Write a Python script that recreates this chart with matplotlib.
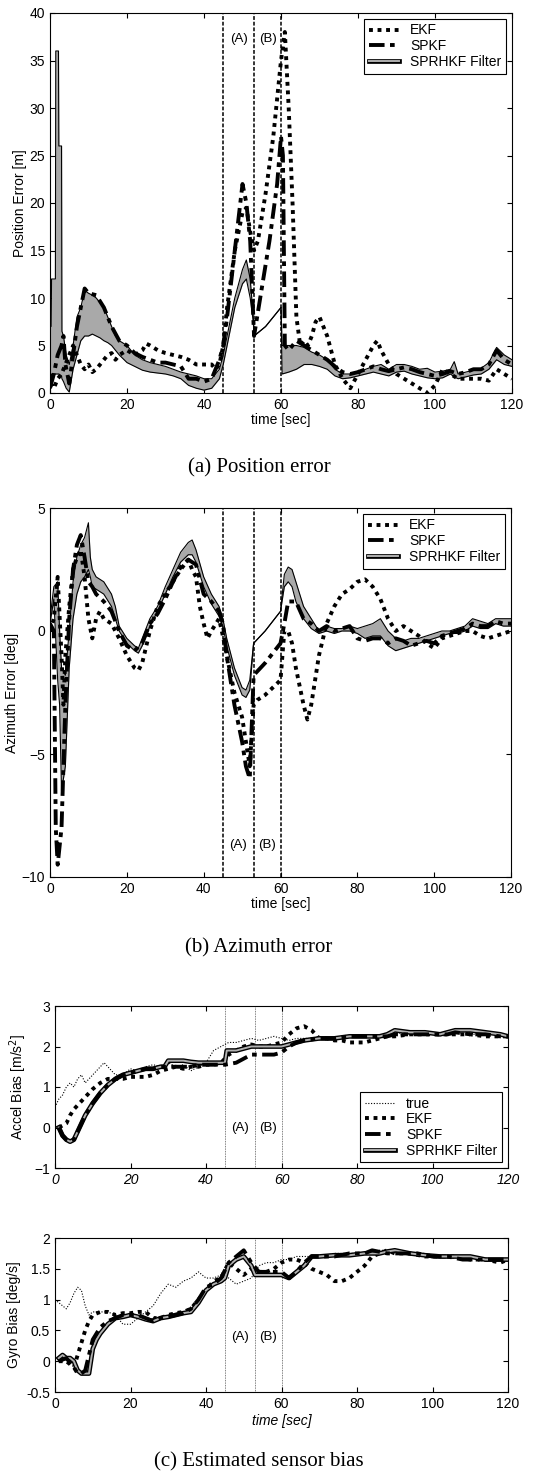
import matplotlib
matplotlib.use("Agg")
import matplotlib.pyplot as plt
import matplotlib.patheffects as pe
from matplotlib.lines import Line2D

plt.rcParams['font.family'] = ['Liberation Sans', 'DejaVu Sans']
plt.rcParams['font.size'] = 10
plt.rcParams['xtick.direction'] = 'in'
plt.rcParams['ytick.direction'] = 'in'
plt.rcParams['xtick.top'] = True
plt.rcParams['ytick.right'] = True
plt.rcParams['xtick.major.size'] = 3.5
plt.rcParams['ytick.major.size'] = 3.5
plt.rcParams['axes.linewidth'] = 0.8

# GPS outage markers
outage_t = [45, 53, 60]

# ---- (a) position error [m] ----
pos_band_t = [0, 0.3, 0.4, 1.4, 1.5, 2.2, 2.3, 3.0, 3.1, 3.5, 4.2, 5, 6, 7, 8, 9, 10, 11, 12, 13, 14,
              15, 16, 17, 18, 20, 22, 24, 26, 28, 30, 32, 34, 36, 38, 40, 42, 44, 45, 46, 48, 50, 51,
              52, 52.8, 53, 56, 60, 60.3, 62, 64, 66, 68, 70, 72, 74, 76, 78, 80, 82, 84, 86, 88, 90,
              92, 94, 96, 98, 100, 102, 104, 105, 106, 108, 110, 112, 114, 116, 118, 120]
pos_band_hi = [7, 7, 12, 12, 36, 36, 26, 26, 6.5, 6, 4, 3, 5, 8, 9, 10.8, 10.5, 10.3, 10, 9.5, 9,
               8, 7, 6, 5.5, 5, 4, 3.5, 3.2, 3, 2.8, 2.5, 2.2, 2, 1.8, 1.5, 1.5, 2.5, 4, 6, 10, 13, 14,
               12, 8, 6, 7, 9, 5, 5, 5, 4.8, 4.3, 4, 3.5, 2.5, 2, 2, 2.2, 2.5, 2.8, 3, 2.5, 3,
               3, 2.8, 2.5, 2.6, 2.2, 2.3, 2.5, 3.3, 2, 2.2, 2.4, 2.6, 3.2, 4.8, 4, 3.5]
pos_band_lo = [1.5, 1.5, 2, 2, 2, 2, 2, 1.8, 1.5, 1.2, 0.5, 0.1, 2.5, 4, 5.5, 6, 6, 6.2, 6, 5.8, 5.5,
               5.3, 5, 4.5, 4, 3.2, 2.8, 2.4, 2.2, 2.1, 2, 1.8, 1.5, 0.8, 0.5, 0.3, 0.5, 1.5, 3, 5, 9,
               11.5, 12, 10, 7.5, 6, 7, 9, 2, 2.2, 2.5, 3, 3, 2.8, 2.5, 1.8, 1.5, 1.6, 1.8, 2, 2.2, 2,
               1.8, 2.2, 2.3, 2, 1.8, 1.6, 1.5, 1.6, 2, 1.7, 1.5, 1.7, 1.9, 2, 2.5, 3.5, 3, 2.8]

pos_ekf_t = [0, 1, 2, 3, 4, 5, 6, 7, 8, 9, 10, 11, 12, 13, 14, 15, 16, 17, 18, 20, 22, 24, 25, 26,
             28, 30, 32, 34, 36, 38, 40, 42, 43, 44, 45, 46, 48, 50, 51, 52, 53, 54, 56, 58, 60,
             61, 62, 63, 64, 65, 66, 67, 68, 69, 70, 71, 72, 73, 74, 76, 78, 80, 82, 84, 85, 86,
             88, 90, 92, 94, 96, 98, 100, 102, 104, 106, 108, 110, 112, 114, 116, 118, 120]
pos_ekf = [1, 0.5, 1.5, 2, 3, 4, 5, 4, 3, 2.5, 3, 2.2, 2.5, 3, 3.5, 4, 4.2, 3.5, 4, 4.5, 4, 4.5, 5.2, 5,
           4.5, 4.2, 4, 3.8, 3.5, 3, 3, 3, 2.5, 3, 5, 9, 15, 19, 19.5, 17, 15, 16, 21, 27, 35,
           38, 30, 20, 8, 5, 5.5, 5, 6, 7.5, 8, 7, 6, 4.5, 3, 1.5, 0.5, 2, 3.5, 5, 5.5, 4.5,
           3, 2, 1.5, 1, 0.5, 0, 0.8, 2.5, 2, 1.5, 1.5, 1.5, 1.5, 1.3, 2.5, 2, 1.5]

pos_spkf_t = [0, 1, 1.5, 2, 3, 3.5, 4, 5, 6, 7, 8, 9, 10, 12, 14, 16, 18, 20, 22, 24, 26, 28, 30, 32,
              34, 36, 38, 40, 42, 44, 45, 46, 48, 50, 51, 52, 53, 55, 57, 59, 60, 60.5, 61, 62, 64,
              66, 68, 70, 72, 74, 76, 78, 80, 82, 84, 86, 88, 90, 92, 94, 96, 98, 100, 102, 104,
              106, 108, 110, 112, 114, 116, 118, 120]
pos_spkf = [0.5, 2, 3, 4, 5, 6, 3, 1, 4, 7, 9, 11, 10.5, 10.3, 9, 7, 5.5, 5, 4.2, 3.8, 3.5, 3.2, 3.2, 3,
            2.8, 1.5, 1.5, 1.2, 1.5, 3.5, 5, 8, 15, 22, 20, 16, 6, 11, 16, 22, 27, 25, 5, 4.5, 5.5,
            5, 4.5, 4, 3.5, 2.8, 2.2, 2, 2.2, 2.5, 2.8, 2.5, 2.3, 2.5, 2.7, 2.5, 2.2, 2, 1.8, 2, 2.3,
            2, 2.2, 2.5, 2.5, 3, 4.5, 3.5, 3]

# ---- (b) azimuth error [deg] ----
az_band_t = [0, 1, 2, 2.5, 3, 4, 5, 6, 7, 8, 9, 10, 10.5, 11, 12, 14, 16, 17, 18, 20, 22, 23, 24, 26,
             28, 30, 32, 34, 36, 37, 38, 40, 42, 44, 45, 46, 48, 50, 51, 52, 53, 56, 60, 61, 62, 63,
             64, 66, 68, 70, 72, 74, 76, 78, 80, 82, 84, 86, 88, 90, 92, 94, 96, 98, 100, 102, 104,
             106, 108, 110, 112, 114, 116, 118, 120]
az_band_hi = [0.5, 1.8, 2, 0, -1.5, -1.8, 0, 2, 3, 3.5, 3.8, 4.4, 3, 2.5, 2.2, 2, 1.5, 1, 0.2, -0.3, -0.6,
              -0.7, -0.3, 0.5, 1, 1.8, 2.5, 3.2, 3.6, 3.7, 3.3, 2.2, 1.5, 1, 0.5, -0.3, -1.5, -2.3, -2.4,
              -2.0, -0.5, 0, 0.8, 2.3, 2.6, 2.5, 2, 1, 0.5, 0, 0.2, 0.1, 0.1, 0.2, 0.1, 0.2, 0.3, 0.5,
              0, -0.3, -0.4, -0.3, -0.3, -0.2, -0.1, 0, 0, 0.1, 0.2, 0.5, 0.4, 0.3, 0.5, 0.5, 0.5]
az_band_lo = [0.3, 1.3, -2, -3, -6.5, -5.5, -1.5, 0.5, 1.5, 2, 2.2, 2.5, 2.2, 1.8, 1.7, 1.5, 1, 0.5, 0,
              -0.5, -0.8, -0.9, -0.6, 0.2, 0.8, 1.5, 2.2, 2.8, 3.1, 3.1, 2.8, 1.8, 1.1, 0.6, 0.2, -0.6,
              -1.8, -2.6, -2.7, -2.4, -0.5, 0, 0.8, 1.8, 2.0, 1.8, 1.2, 0.5, 0.1, -0.1, 0, -0.1, 0, 0,
              -0.1, -0.3, -0.2, -0.2, -0.6, -0.8, -0.7, -0.6, -0.5, -0.4, -0.3, -0.2, -0.1, -0.1, 0,
              0.2, 0.1, 0.1, 0.3, 0.2, 0.2]

az_ekf_t = [0, 1, 2, 3, 3.5, 4, 5, 6, 7, 8, 9, 10, 11, 12, 13, 14, 16, 18, 20, 22, 23, 24, 26, 28, 30,
            32, 34, 36, 37, 38, 39, 40, 41, 42, 44, 45, 46, 48, 50, 51, 52, 53, 54, 56, 58, 60, 61,
            62, 63, 64, 66, 67, 68, 70, 72, 74, 76, 78, 80, 82, 84, 86, 88, 90, 92, 94, 96, 98, 100,
            102, 104, 106, 108, 110, 112, 114, 116, 118, 120]
az_ekf = [0, 0.5, 2.2, -1, -3, -1, 1, 2.5, 3, 3.3, 2.2, 0.5, -0.3, 0.5, 0.8, 0.5, 0.3, -0.3, -1.0, -1.5,
          -1.6, -1.3, 0, 1, 1.5, 2, 2.5, 2.9, 2.5, 2.2, 1, 0.3, -0.3, 0, 0.5, -0.2, -1, -2.5, -3.5,
          -4.5, -5.5, -3, -2.8, -2.6, -2.3, -2, 0, 0, -0.5, -1.5, -3, -3.6, -3, -1, 0.3, 1, 1.5, 1.7,
          2, 2.1, 1.8, 1.3, 0.5, 0, 0.2, 0, -0.2, -0.5, -0.7, -0.3, -0.2, -0.1, 0, 0, -0.2, -0.3,
          -0.2, -0.1, 0]

az_spkf_t = [0, 1, 1.5, 2, 3, 4, 5, 6, 7, 8, 9, 10, 11, 12, 14, 16, 18, 20, 22, 24, 26, 28, 30, 32, 34,
             36, 38, 40, 42, 44, 45, 46, 48, 50, 51, 52, 53, 56, 60, 61, 62, 64, 66, 68, 70, 72, 74,
             76, 78, 80, 82, 84, 86, 88, 90, 92, 94, 96, 98, 100, 102, 104, 106, 108, 110, 112, 114,
             116, 118, 120]
az_spkf = [0.3, 0, -8, -9.5, -8, -3, 0.5, 2.5, 3.5, 3.9, 3, 2, 1.8, 1.5, 1.2, 0.8, 0, -0.6, -0.8, -0.5,
           0.3, 0.7, 1.3, 2, 2.6, 2.9, 2.7, 1.5, 1.2, 0.8, 0.3, -1, -3, -4.5, -5.5, -6, -1.8, -1.3,
           -0.5, 0.3, 1.2, 1.2, 0.5, 0.3, 0, 0.2, 0, 0.1, 0.2, -0.3, -0.4, -0.3, -0.3, -0.5, -0.3,
           -0.4, -0.6, -0.5, -0.4, -0.5, -0.2, -0.1, 0, 0.1, 0.3, 0.2, 0.2, 0.4, 0.3, 0.3]

# ---- (c) accelerometer bias [m/s^2] ----
acc_true_t = [0, 1, 2, 3, 4, 5, 6, 7, 8, 9, 10, 11, 12, 13, 14, 15, 16, 18, 20, 22, 24, 26, 28, 30,
              32, 34, 36, 38, 40, 42, 44, 46, 48, 50, 52, 54, 56, 58, 60, 62, 64, 66, 68, 70, 72,
              76, 80, 84, 88, 90, 94, 98, 102, 106, 110, 114, 118, 120]
acc_true = [0.5, 0.7, 0.8, 1.0, 1.1, 1.0, 1.2, 1.3, 1.1, 1.2, 1.3, 1.4, 1.5, 1.6, 1.5, 1.4, 1.3, 1.3,
            1.45, 1.4, 1.5, 1.55, 1.5, 1.6, 1.5, 1.55, 1.4, 1.5, 1.6, 1.9, 2.0, 2.1, 2.1, 2.15, 2.2,
            2.15, 2.2, 2.25, 2.2, 2.15, 2.2, 2.2, 2.2, 2.25, 2.2, 2.2, 2.25, 2.25, 2.3, 2.35, 2.3,
            2.35, 2.3, 2.35, 2.3, 2.3, 2.3, 2.25]

acc_ekf_t = [1, 2, 3, 4, 5, 6, 7, 8, 9, 10, 12, 14, 16, 18, 20, 22, 24, 26, 28, 30, 32, 34, 36, 38,
             40, 42, 44, 46, 48, 50, 52, 54, 56, 58, 60, 62, 64, 66, 68, 70, 72, 74, 76, 78, 80, 82,
             84, 86, 88, 90, 94, 98, 102, 106, 110, 114, 118, 120]
acc_ekf = [0, 0.05, 0.1, 0.3, 0.45, 0.55, 0.65, 0.75, 0.85, 0.95, 1.1, 1.2, 1.2, 1.2, 1.25, 1.25, 1.25,
           1.3, 1.4, 1.45, 1.5, 1.45, 1.5, 1.5, 1.55, 1.55, 1.6, 1.8, 1.9, 2.0, 2.05, 2.0, 2.0, 2.05,
           2.1, 2.3, 2.45, 2.5, 2.4, 2.2, 2.2, 2.15, 2.15, 2.1, 2.1, 2.1, 2.15, 2.2, 2.25, 2.25, 2.3,
           2.3, 2.3, 2.3, 2.3, 2.25, 2.25, 2.25]

acc_spkf_t = [1, 2, 3, 4, 5, 6, 7, 8, 10, 12, 14, 16, 18, 20, 22, 24, 26, 28, 30, 32, 34, 36, 38, 40,
              42, 44, 45, 48, 50, 52, 54, 56, 58, 60, 62, 64, 66, 70, 74, 78, 82, 86, 88, 90, 94, 98,
              102, 104, 106, 110, 114, 118, 120]
acc_spkf = [0, -0.2, -0.3, -0.35, -0.3, -0.1, 0.1, 0.3, 0.6, 0.85, 1.05, 1.2, 1.3, 1.35, 1.4, 1.45, 1.45,
            1.5, 1.5, 1.5, 1.5, 1.5, 1.55, 1.55, 1.55, 1.55, 1.55, 1.6, 1.7, 1.8, 1.8, 1.8, 1.8, 1.85,
            2.0, 2.1, 2.15, 2.2, 2.2, 2.25, 2.25, 2.25, 2.25, 2.3, 2.3, 2.3, 2.3, 2.3, 2.35, 2.3, 2.3,
            2.25, 2.25]

acc_sprhkf_t = [1, 2, 3, 4, 5, 6, 7, 8, 10, 12, 14, 16, 18, 20, 22, 24, 26, 28, 29, 30, 32, 34, 36, 38,
                40, 42, 44, 45, 45.5, 48, 50, 52, 54, 56, 58, 60, 62, 64, 66, 70, 74, 78, 82, 86, 88,
                90, 94, 98, 102, 104, 106, 110, 114, 118, 120]
acc_sprhkf = [0, -0.2, -0.3, -0.35, -0.3, -0.1, 0.1, 0.3, 0.6, 0.85, 1.05, 1.2, 1.3, 1.35, 1.4, 1.45,
              1.45, 1.5, 1.5, 1.65, 1.65, 1.65, 1.62, 1.6, 1.6, 1.6, 1.6, 1.6, 1.9, 1.9, 1.95, 2.0, 2.0,
              2.0, 2.0, 2.0, 2.05, 2.1, 2.15, 2.2, 2.2, 2.25, 2.25, 2.25, 2.3, 2.4, 2.35, 2.35, 2.3,
              2.35, 2.4, 2.4, 2.35, 2.3, 2.25]

# ---- (c) gyro bias [deg/s] ----
gyr_true_t = [0, 1, 2, 3, 4, 5, 6, 7, 8, 9, 10, 12, 14, 16, 18, 20, 22, 24, 26, 28, 30, 32, 34, 36, 38,
              40, 42, 44, 46, 48, 50, 52, 54, 56, 58, 60, 62, 64, 66, 70, 74, 78, 82, 86, 90, 94, 98,
              102, 106, 110, 114, 118, 120]
gyr_true = [1.0, 0.95, 0.9, 0.85, 0.95, 1.1, 1.2, 1.15, 0.9, 0.75, 0.8, 0.8, 0.8, 0.75, 0.6, 0.6, 0.7,
            0.8, 0.9, 1.1, 1.25, 1.2, 1.3, 1.35, 1.45, 1.35, 1.35, 1.4, 1.35, 1.25, 1.3, 1.35, 1.55,
            1.6, 1.6, 1.65, 1.65, 1.7, 1.7, 1.7, 1.75, 1.75, 1.75, 1.8, 1.8, 1.75, 1.75, 1.7, 1.7, 1.7,
            1.65, 1.65, 1.65]

gyr_ekf_t = [1, 3, 5, 6, 7, 8, 9, 10, 12, 14, 16, 18, 20, 22, 24, 26, 28, 30, 32, 34, 36, 38, 40, 42,
             44, 46, 48, 50, 52, 54, 56, 58, 60, 62, 64, 66, 68, 70, 72, 74, 76, 78, 80, 82, 84, 86,
             88, 90, 94, 98, 102, 106, 110, 114, 118, 120]
gyr_ekf = [0, 0, -0.1, 0.1, 0.3, 0.5, 0.65, 0.75, 0.8, 0.8, 0.75, 0.78, 0.78, 0.8, 0.8, 0.7, 0.7, 0.75,
           0.78, 0.8, 0.85, 1.0, 1.15, 1.3, 1.35, 1.6, 1.5, 1.4, 1.5, 1.45, 1.45, 1.5, 1.6, 1.65, 1.65,
           1.6, 1.5, 1.45, 1.4, 1.3, 1.3, 1.35, 1.45, 1.55, 1.7, 1.75, 1.8, 1.75, 1.75, 1.7, 1.7, 1.7,
           1.65, 1.65, 1.6, 1.65]

gyr_spkf_t = [1, 3, 5, 6, 7, 8, 9, 10, 12, 14, 16, 18, 20, 22, 24, 26, 28, 30, 32, 34, 36, 38, 40, 42,
              44, 46, 48, 50, 52, 54, 56, 58, 60, 62, 64, 66, 68, 70, 74, 78, 82, 84, 88, 92, 96, 100,
              104, 108, 112, 116, 120]
gyr_spkf = [0, 0.05, -0.1, -0.2, -0.2, -0.15, 0.1, 0.35, 0.55, 0.65, 0.7, 0.75, 0.75, 0.75, 0.7, 0.65,
            0.7, 0.72, 0.75, 0.78, 0.85, 1.0, 1.2, 1.25, 1.35, 1.6, 1.7, 1.8, 1.6, 1.45, 1.45, 1.45,
            1.45, 1.35, 1.45, 1.6, 1.7, 1.7, 1.7, 1.75, 1.75, 1.8, 1.75, 1.75, 1.75, 1.7, 1.7, 1.65,
            1.65, 1.65, 1.65]

gyr_sprhkf_t = [1, 2, 3, 4, 5, 6, 7, 8, 9, 10, 11, 12, 14, 16, 18, 20, 22, 24, 26, 28, 30, 32, 34, 36,
                38, 40, 42, 44, 45, 46, 48, 50, 52, 53, 56, 60, 62, 64, 66, 68, 70, 74, 78, 82, 86, 88,
                90, 94, 98, 102, 106, 110, 114, 118, 120]
gyr_sprhkf = [0.05, 0.1, 0.05, 0.05, 0, -0.15, -0.2, -0.2, -0.2, 0.2, 0.35, 0.45, 0.6, 0.7, 0.72, 0.75,
              0.72, 0.68, 0.65, 0.7, 0.72, 0.75, 0.78, 0.8, 0.95, 1.15, 1.25, 1.3, 1.35, 1.55, 1.65,
              1.7, 1.55, 1.4, 1.4, 1.4, 1.35, 1.45, 1.55, 1.7, 1.7, 1.72, 1.72, 1.75, 1.75, 1.78, 1.8,
              1.75, 1.72, 1.7, 1.7, 1.7, 1.65, 1.65, 1.65]

ekf_style = dict(color='black', lw=2.8, linestyle=(0, (1, 1.2)), dash_capstyle='butt')
spkf_style = dict(color='black', lw=2.8, linestyle=(0, (4, 1.4, 1.2, 1.4)), dash_capstyle='butt')
true_style = dict(color='black', lw=0.8, linestyle=(0, (1, 1.5)))
band_fill = '#a9a9a9'
sprhkf_fx = [pe.Stroke(linewidth=3.4, foreground='black'), pe.Normal()]

ekf_h = Line2D([], [], label='EKF', **ekf_style)
spkf_h = Line2D([], [], label='SPKF', **spkf_style)
sprhkf_h = Line2D([], [], color='#b0b0b0', lw=1.4, label='SPRHKF Filter', path_effects=sprhkf_fx)
true_h = Line2D([], [], label='true', **true_style)

W, H = 533, 1481
fig = plt.figure(figsize=(W / 100, H / 100), dpi=100)


def px_axes(left, top, right, bottom):
    return fig.add_axes([left / W, 1 - bottom / H, (right - left) / W, (bottom - top) / H])


def outage_lines(ax, ylab, dashed=True):
    for t in outage_t:
        if dashed:
            ax.axvline(t, color='black', lw=1.1, linestyle=(0, (2.5, 1.2)), zorder=1)
        else:
            ax.axvline(t, color='#555555', lw=0.6, linestyle=(0, (1, 1)), zorder=1)
    ax.text(49, ylab, '(A)', ha='center', va='center', fontsize=9.5)
    ax.text(56.5, ylab, '(B)', ha='center', va='center', fontsize=9.5)


def band(ax, t, lo, hi):
    ax.fill_between(t, lo, hi, color=band_fill, lw=0, zorder=2)
    ax.plot(t, lo, color='black', lw=0.8, zorder=3)
    ax.plot(t, hi, color='black', lw=0.8, zorder=3)


def legend(ax, handles, loc):
    lg = ax.legend(handles=handles, loc=loc, fontsize=10, frameon=True, fancybox=False,
                   edgecolor='black', framealpha=1, handlelength=2.2, borderpad=0.35,
                   labelspacing=0.12, borderaxespad=0.4)
    lg.get_frame().set_linewidth(0.8)


# (a) position error
ax1 = px_axes(50, 13, 512, 393)
band(ax1, pos_band_t, pos_band_lo, pos_band_hi)
ax1.plot(pos_ekf_t, pos_ekf, zorder=4, **ekf_style)
ax1.plot(pos_spkf_t, pos_spkf, zorder=4, **spkf_style)
outage_lines(ax1, 37.3)
ax1.set_xlim(0, 120)
ax1.set_ylim(0, 40)
ax1.set_xticks(range(0, 121, 20))
ax1.set_yticks(range(0, 41, 5))
ax1.set_xlabel('time [sec]', labelpad=1)
ax1.set_ylabel('Position Error [m]', labelpad=2)
legend(ax1, [ekf_h, spkf_h, sprhkf_h], 'upper right')

# (b) azimuth error
ax2 = px_axes(50, 508, 511, 877)
band(ax2, az_band_t, az_band_lo, az_band_hi)
ax2.plot(az_ekf_t, az_ekf, zorder=4, **ekf_style)
ax2.plot(az_spkf_t, az_spkf, zorder=4, **spkf_style)
outage_lines(ax2, -8.7)
ax2.set_xlim(0, 120)
ax2.set_ylim(-10, 5)
ax2.set_xticks(range(0, 121, 20))
ax2.set_yticks([-10, -5, 0, 5])
ax2.set_xlabel('time [sec]', labelpad=1)
ax2.set_ylabel('Azimuth Error [deg]', labelpad=2)
legend(ax2, [ekf_h, spkf_h, sprhkf_h], 'upper right')

# (c) accelerometer bias
ax3 = px_axes(55, 1006, 508, 1168)
ax3.plot(acc_true_t, acc_true, zorder=3, **true_style)
ax3.plot(acc_ekf_t, acc_ekf, zorder=3, **ekf_style)
ax3.plot(acc_sprhkf_t, acc_sprhkf, color='#b0b0b0', lw=1.4, zorder=4, path_effects=sprhkf_fx)
ax3.plot(acc_spkf_t, acc_spkf, zorder=4, **spkf_style)
outage_lines(ax3, 0.0, dashed=False)
ax3.set_xlim(0, 120)
ax3.set_ylim(-1, 3)
ax3.set_xticks(range(0, 121, 20))
ax3.set_yticks([-1, 0, 1, 2, 3])
for lbl in ax3.get_xticklabels():
    lbl.set_fontstyle('italic')
ax3.set_ylabel('Accel Bias [m/s$^2$]', labelpad=4)
legend(ax3, [true_h, ekf_h, spkf_h, sprhkf_h], 'lower right')

# (c) gyro bias
ax4 = px_axes(55, 1238, 508, 1392)
ax4.plot(gyr_true_t, gyr_true, zorder=3, **true_style)
ax4.plot(gyr_ekf_t, gyr_ekf, zorder=3, **ekf_style)
ax4.plot(gyr_sprhkf_t, gyr_sprhkf, color='#b0b0b0', lw=1.4, zorder=4, path_effects=sprhkf_fx)
ax4.plot(gyr_spkf_t, gyr_spkf, zorder=4, **spkf_style)
outage_lines(ax4, 0.4, dashed=False)
ax4.set_xlim(0, 120)
ax4.set_ylim(-0.5, 2)
ax4.set_xticks(range(0, 121, 20))
ax4.set_yticks([-0.5, 0, 0.5, 1, 1.5, 2])
ax4.set_yticklabels(['-0.5', '0', '0.5', '1', '1.5', '2'])
ax4.set_xlabel('time [sec]', fontstyle='italic', labelpad=2)
ax4.set_ylabel('Gyro Bias [deg/s]', labelpad=4)

# captions
cap = dict(ha='center', va='center', fontsize=15, family=['Liberation Serif', 'DejaVu Serif'])
fig.text(259 / W, 1 - 468 / H, '(a) Position error', **cap)
fig.text(259 / W, 1 - 948 / H, '(b) Azimuth error', **cap)
fig.text(259 / W, 1 - 1462 / H, '(c) Estimated sensor bias', **cap)

fig.savefig('out.png', dpi=100)
